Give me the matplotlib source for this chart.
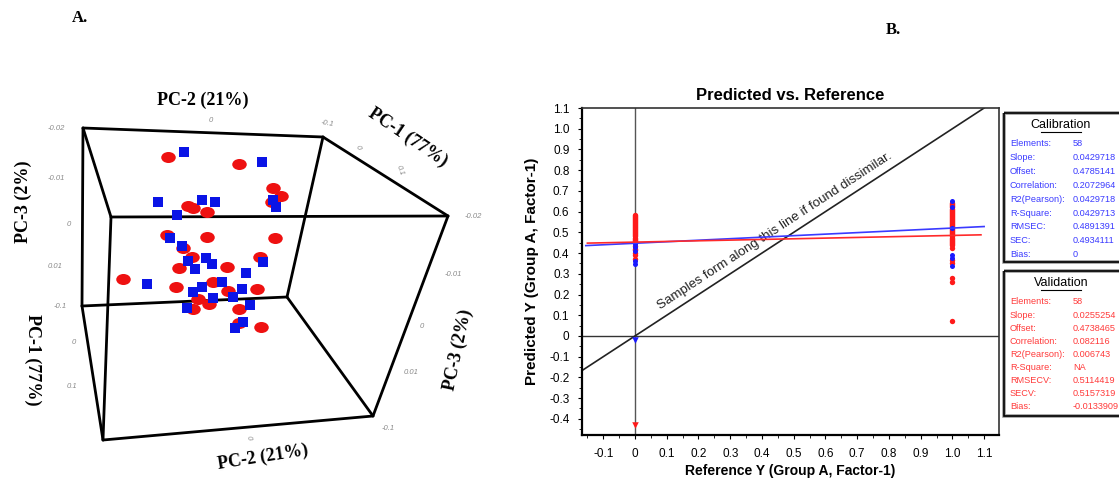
import matplotlib
matplotlib.use("Agg")
import matplotlib.pyplot as plt
from matplotlib.markers import MarkerStyle
from matplotlib.transforms import Affine2D
from matplotlib.ticker import MultipleLocator, FuncFormatter

# ---- panel A: PCA scores, projected positions (px) ----
red_x = [168, 239, 273, 281, 272, 188, 193, 207, 167, 207, 275, 183, 192, 260,
         179, 227, 213, 123, 176, 228, 257, 198, 209, 193, 239, 239, 261]
red_y = [157, 164, 188, 196, 202, 206, 208, 212, 235, 237, 238, 248, 257, 257,
         268, 267, 282, 279, 287, 291, 289, 299, 304, 309, 309, 323, 327]
blue_x = [184, 262, 158, 202, 215, 177, 273, 276, 170, 182, 188, 206, 212, 195,
          263, 246, 147, 202, 193, 222, 242, 233, 213, 187, 250, 243, 235]
blue_y = [152, 162, 202, 200, 202, 215, 200, 207, 238, 246, 261, 258, 264, 269,
          262, 273, 284, 287, 292, 282, 289, 297, 298, 308, 305, 322, 328]

# box corners of the 3D frame (px)
box_x = {"p1": 83, "p2": 323, "p3": 448, "p4": 111, "p5": 82, "p6": 287, "p7": 103, "p8": 373}
box_y = {"p1": 128, "p2": 137, "p3": 216, "p4": 217, "p5": 306, "p6": 297, "p7": 440, "p8": 416}
box_edges = [("p1", "p2"), ("p2", "p3"), ("p1", "p4"), ("p4", "p3"), ("p1", "p5"),
             ("p5", "p7"), ("p4", "p7"), ("p5", "p6"), ("p6", "p8"), ("p7", "p8"),
             ("p2", "p6"), ("p3", "p8")]

# ---- panel B: predicted vs reference ----
ref0_red = [0.585, 0.58, 0.575, 0.57, 0.565, 0.56, 0.555, 0.55, 0.545, 0.54, 0.535,
            0.53, 0.525, 0.52, 0.515, 0.51, 0.505, 0.50, 0.495, 0.49, 0.485, 0.48,
            0.475, 0.47, 0.465, 0.46, 0.455, 0.435, 0.42, 0.415, 0.40, 0.39, 0.372]
ref0_blue = [0.444, 0.427, 0.41, 0.36, 0.346]
ref1_red = [0.64, 0.635, 0.63, 0.625, 0.62, 0.615, 0.61, 0.605, 0.60, 0.595, 0.59,
            0.585, 0.58, 0.575, 0.57, 0.565, 0.56, 0.555, 0.55, 0.545, 0.54, 0.535,
            0.53, 0.525, 0.52, 0.515, 0.51, 0.505, 0.50, 0.495, 0.49, 0.485, 0.48,
            0.475, 0.47, 0.465, 0.46, 0.455, 0.45, 0.445, 0.44, 0.425, 0.367, 0.354,
            0.279, 0.259, 0.072]
ref1_blue = [0.649, 0.62, 0.52, 0.39, 0.375, 0.338]
outlier_blue = -0.02
outlier_red = -0.43
cal_line_x = [-0.155, 1.10]
cal_line_y = [0.436, 0.528]
val_line_x = [-0.15, 1.09]
val_line_y = [0.448, 0.488]
target_x = [-0.167, 1.10]
target_y = [-0.167, 1.10]

cal_labels = ["Elements:", "Slope:", "Offset:", "Correlation:", "R2(Pearson):",
              "R-Square:", "RMSEC:", "SEC:", "Bias:"]
cal_values = ["58", "0.0429718", "0.4785141", "0.2072964", "0.0429718",
              "0.0429713", "0.4891391", "0.4934111", "0"]
val_labels = ["Elements:", "Slope:", "Offset:", "Correlation:", "R2(Pearson):",
              "R-Square:", "RMSECV:", "SECV:", "Bias:"]
val_values = ["58", "0.0255254", "0.4738465", "0.082116", "0.006743",
              "NA", "0.5114419", "0.5157319", "-0.0133909"]

NARROW = ["Liberation Sans Narrow", "Liberation Sans", "DejaVu Sans"]
SERIF = ["Liberation Serif", "DejaVu Serif"]
RED = "#ff1a1a"
BLUE = "#1a1aff"

fig = plt.figure(figsize=(11.19, 4.82), dpi=100)

# ---------------- B ----------------
ax = fig.add_axes([0.5201, 0.0975, 0.3727, 0.6784])
ax.set_xlim(-0.167, 1.147)
ax.set_ylim(-0.478, 1.1)
ax.axhline(0, color="#333333", lw=1.0, zorder=1)
ax.axvline(0, color="#555555", lw=1.0, zorder=1)
ax.plot(target_x, target_y, color="#222222", lw=1.2, zorder=2)
ax.plot(cal_line_x, cal_line_y, color="#3a3aff", lw=1.2, zorder=4)
ax.plot(val_line_x, val_line_y, color="#ff2a2a", lw=1.2, zorder=4)
ax.scatter([0] * len(ref0_red), ref0_red, s=15, color=RED, zorder=3, lw=0)
ax.scatter([0] * len(ref0_blue), ref0_blue, s=13, color=BLUE, zorder=3, lw=0)
ax.scatter([1] * len(ref1_red), ref1_red, s=15, color=RED, zorder=3, lw=0)
ax.scatter([1] * len(ref1_blue), ref1_blue, s=13, color=BLUE, zorder=3, lw=0)
ax.scatter([0], [outlier_blue], marker="v", s=22, color=BLUE, zorder=3, lw=0)
ax.scatter([0], [outlier_red], marker="v", s=22, color=RED, zorder=3, lw=0)
ax.text(0.085, 0.115, "Samples form along this line if found dissimilar.",
        rotation=33.2, rotation_mode="anchor", ha="left", va="bottom",
        fontsize=9.6, family=NARROW, color="#222222")

fmt = FuncFormatter(lambda v, p: "0" if abs(v) < 1e-9 else f"{v:.1f}")
ax.xaxis.set_major_locator(MultipleLocator(0.1))
ax.yaxis.set_major_locator(MultipleLocator(0.1))
ax.xaxis.set_minor_locator(MultipleLocator(0.05))
ax.yaxis.set_minor_locator(MultipleLocator(0.05))
ax.xaxis.set_major_formatter(fmt)
ax.yaxis.set_major_formatter(fmt)
ax.tick_params(which="major", direction="out", length=3, width=0.8, labelsize=8.5, pad=6)
ax.tick_params(which="minor", direction="out", length=2, width=0.6)
for lbl in ax.get_xticklabels() + ax.get_yticklabels():
    lbl.set_family(NARROW)
for side in ["left", "bottom"]:
    ax.spines[side].set_linewidth(1.6)
for side in ["top", "right"]:
    ax.spines[side].set_linewidth(1.2)
    ax.spines[side].set_color("#333333")
ax.set_title("Predicted vs. Reference", fontsize=12, fontweight="bold",
             family=NARROW, pad=6)
ax.set_xlabel("Reference Y (Group A, Factor-1)", fontsize=10, fontweight="bold",
              family=NARROW, labelpad=3)
ax.set_ylabel("Predicted Y (Group A, Factor-1)", fontsize=11, fontweight="bold",
              family=NARROW, labelpad=7)

# ---------------- pixel overlay: panel A + stats boxes ----------------
ov = fig.add_axes([0, 0, 1, 1], zorder=5)
ov.set_xlim(0, 1119)
ov.set_ylim(482, 0)
ov.axis("off")
ov.patch.set_alpha(0)

for a, b in box_edges:
    ov.plot([box_x[a], box_x[b]], [box_y[a], box_y[b]], color="black", lw=2.0,
            solid_capstyle="round")

ellipse = MarkerStyle("o", transform=Affine2D().scale(1.25, 0.95))
ov.scatter(red_x, red_y, marker=ellipse, s=70, color="#ee1111", lw=0, zorder=3)
ov.scatter(blue_x, blue_y, marker="s", s=60, color="#0a14e6", lw=0, zorder=4)

tick_style = dict(fontsize=5.5, color="#8a8a8a", style="italic", family=NARROW)
for t, x, y in [("-0.02", 65, 128), ("-0.01", 65, 178), ("0", 71, 224),
                ("0.01", 63, 267), ("-0.1", 67, 306), ("0", 76, 342), ("0.1", 77, 387)]:
    ov.text(x, y, t, ha="right", va="center", **tick_style)
for t, x, y in [("-0.02", 465, 216), ("-0.01", 445, 274), ("0", 420, 327),
                ("0.01", 404, 373), ("-0.1", 382, 428)]:
    ov.text(x, y, t, ha="left", va="center", **tick_style)
ov.text(211, 120, "0", ha="center", va="center", **tick_style)
ov.text(327, 124, "-0.1", ha="center", va="center", rotation=-10, **tick_style)
ov.text(358, 147, "0", ha="center", va="center", rotation=-70, **tick_style)
ov.text(400, 170, "0.1", ha="center", va="center", rotation=-70, **tick_style)
ov.text(249, 438, "0", ha="center", va="center", rotation=-80, **tick_style)

ttl = dict(fontsize=13, fontweight="bold", family=SERIF, color="black")
ov.text(203, 100, "PC-2 (21%)", ha="center", va="center", **ttl)
ov.text(408, 137, "PC-1 (77%)", ha="center", va="center", rotation=-34, **ttl)
ov.text(23, 202, "PC-3 (2%)", ha="center", va="center", rotation=90, **ttl)
ov.text(33, 360, "PC-1 (77%)", ha="center", va="center", rotation=-90, **ttl)
ov.text(458, 350, "PC-3 (2%)", ha="center", va="center", rotation=78, **ttl)
ov.text(263, 457, "PC-2 (21%)", ha="center", va="center", rotation=9, **ttl)

ov.text(80, 18, "A.", ha="center", va="center", fontsize=12, fontweight="bold", family=SERIF)
ov.text(893, 30, "B.", ha="center", va="center", fontsize=12, fontweight="bold", family=SERIF)

# stats boxes
for top, bottom in [(113, 262), (271, 416)]:
    ov.add_patch(plt.Rectangle((1004, top), 130, bottom - top, fill=False,
                               ec="#999999", lw=2.6, clip_on=False))
    ov.add_patch(plt.Rectangle((1004, top), 130, bottom - top, fill=False,
                               ec="black", lw=1.2, clip_on=False))


def stats_block(title, title_y, labels, values, y0, dy, color):
    ov.text(1061, title_y, title, ha="center", va="center", fontsize=9,
            family=NARROW, color="black")
    ov.plot([1041, 1081], [title_y + 6.5, title_y + 6.5], color="black", lw=0.8)
    for i, (lab, val) in enumerate(zip(labels, values)):
        ov.text(1010, y0 + i * dy, lab, ha="left", va="center", fontsize=6.6,
                family=NARROW, color=color)
        ov.text(1073, y0 + i * dy, val, ha="left", va="center", fontsize=6.6,
                family=NARROW, color=color)


stats_block("Calibration", 125, cal_labels, cal_values, 143.5, 13.9, "#3b3bff")
stats_block("Validation", 283, val_labels, val_values, 302, 13.1, "#ff3b3b")

fig.savefig("out.png", dpi=100)
